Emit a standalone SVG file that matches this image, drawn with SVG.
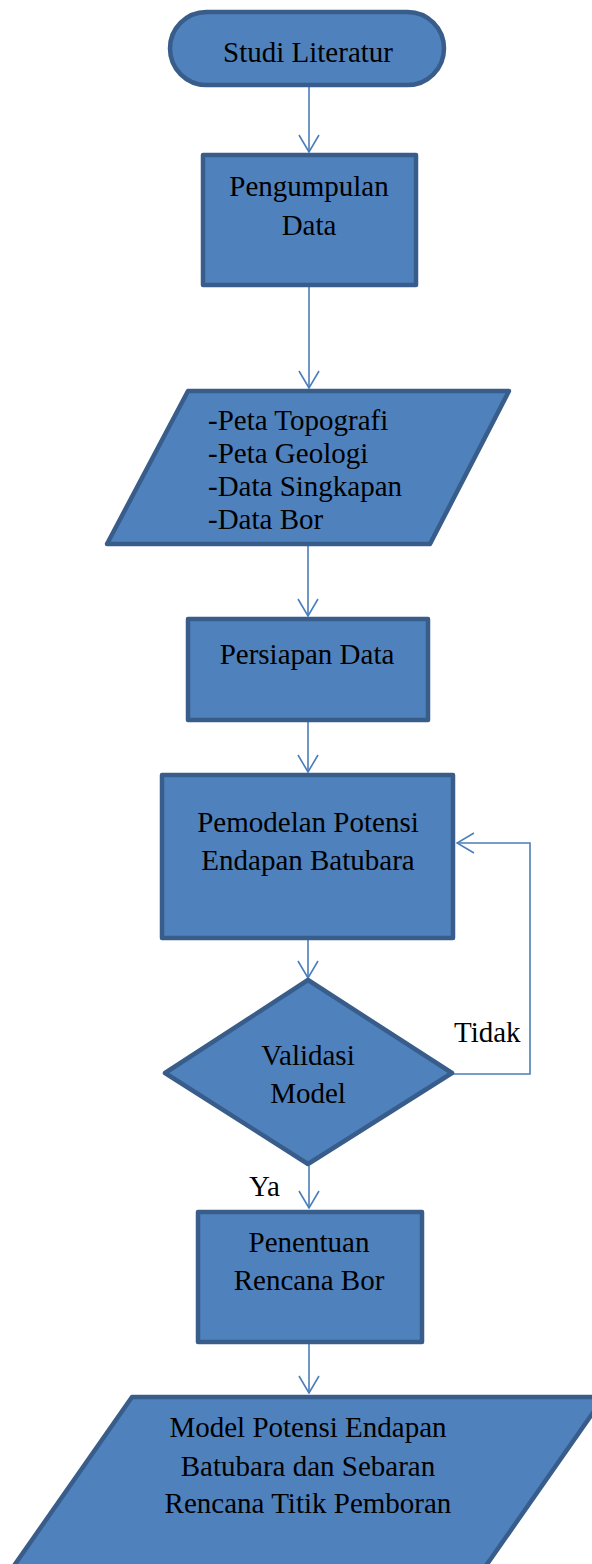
<svg xmlns="http://www.w3.org/2000/svg" width="592" height="1564" viewBox="0 0 592 1564">
<style>
.shape{fill:#4f81bd;stroke:#385d8a;stroke-width:4.5;stroke-linejoin:round}
.conn{fill:none;stroke:#4a7ebb;stroke-width:1.6}
text{font-family:"Liberation Serif","Times New Roman",serif;font-size:29px;fill:#000}
.c{text-anchor:middle}
</style>
<defs>
<marker id="arr" viewBox="0 -1 19 22" refX="18" refY="10" markerWidth="19" markerHeight="22" markerUnits="userSpaceOnUse" orient="auto">
<path d="M1,0 L18,10 L1,20" fill="none" stroke="#4a7ebb" stroke-width="1.6"/>
</marker>
</defs>
<rect width="592" height="1564" fill="#fff"/>
<g id="connectors">
<path class="conn" d="M309,87 V152" marker-end="url(#arr)"/>
<path class="conn" d="M309,287 V388" marker-end="url(#arr)"/>
<path class="conn" d="M308,546 V616" marker-end="url(#arr)"/>
<path class="conn" d="M308,721 V772" marker-end="url(#arr)"/>
<path class="conn" d="M308,940 V978" marker-end="url(#arr)"/>
<path class="conn" d="M452,1074 H530 V843 H457" marker-end="url(#arr)"/>
<path class="conn" d="M309,1166 V1208" marker-end="url(#arr)"/>
<path class="conn" d="M309,1344 V1393" marker-end="url(#arr)"/>
</g>
<g id="studi">
<rect class="shape" x="170" y="12" width="274" height="73" rx="36.5"/>
<text class="c" x="308" y="62">Studi Literatur</text>
</g>
<g id="pengumpulan">
<rect class="shape" x="203" y="155" width="213" height="130"/>
<text class="c" x="309" y="196">Pengumpulan</text>
<text class="c" x="309" y="235">Data</text>
</g>
<g id="input-data">
<polygon class="shape" points="188,391 509,391 430,544 107,544"/>
<text x="208" y="430">-Peta Topografi</text>
<text x="208" y="463">-Peta Geologi</text>
<text x="208" y="496">-Data Singkapan</text>
<text x="208" y="529">-Data Bor</text>
</g>
<g id="persiapan">
<rect class="shape" x="188" y="619" width="240" height="101"/>
<text class="c" x="307" y="664">Persiapan Data</text>
</g>
<g id="pemodelan">
<rect class="shape" x="162" y="775" width="291" height="163"/>
<text class="c" x="308" y="832">Pemodelan Potensi</text>
<text class="c" x="308" y="870">Endapan Batubara</text>
</g>
<g id="validasi">
<polygon class="shape" points="308,980 452,1073 308,1164 165,1073"/>
<text class="c" x="308" y="1065">Validasi</text>
<text class="c" x="308" y="1103">Model</text>
</g>
<g id="labels">
<text x="454" y="1042">Tidak</text>
<text x="249" y="1196">Ya</text>
</g>
<g id="penentuan">
<rect class="shape" x="198" y="1212" width="224" height="130"/>
<text class="c" x="309" y="1252">Penentuan</text>
<text class="c" x="309" y="1290">Rencana Bor</text>
</g>
<g id="output-model">
<polygon class="shape" points="132,1397 604,1397 462,1600 -10,1600"/>
<text class="c" x="308" y="1437">Model Potensi Endapan</text>
<text class="c" x="308" y="1476">Batubara dan Sebaran</text>
<text class="c" x="308" y="1513">Rencana Titik Pemboran</text>
</g>
</svg>
